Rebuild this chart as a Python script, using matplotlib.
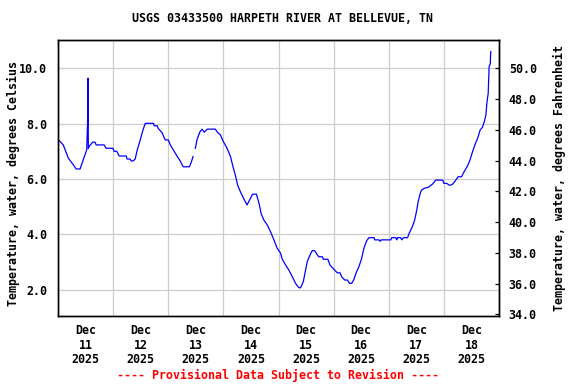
import numpy as np
import matplotlib
matplotlib.use("Agg")
import matplotlib.pyplot as plt
import matplotlib.dates as mdates
from datetime import datetime, timedelta

# Hours since Dec 11 2025 00:00 and water temperature (deg C)
hours = [0, 2.3, 4.5, 6.7, 7.9, 9.6, 11.0, 12.5, 13.0, 13.1, 13.2, 13.7, 15.1, 16.1,
         16.6, 20.1, 20.9, 23.9, 24.4, 25.6, 26.6, 29.7, 30.1, 31.4, 31.9, 32.7, 33.6,
         34.5, 35.8, 37.0, 38.0, 41.6, 41.9, 43.2, 43.6, 45.3, 46.7, 48.0, 48.9, 50.2,
         51.8, 53.2, 54.5, 57.2, 58.0, 58.8, 59.3, 59.8, 60.5, 61.7, 62.7, 63.7, 65.0,
         68.5, 69.4, 70.7, 72.0, 73.6, 75.1, 76.2, 77.2, 78.2, 79.4, 80.8, 82.3, 83.8,
         84.7, 86.4, 87.7, 88.4, 89.6, 91.1, 92.5, 94.0, 95.4, 96.9, 97.6, 99.1, 100.5,
         102.0, 103.4, 104.9, 105.6, 106.8, 107.8, 108.5, 109.7, 110.7, 111.7, 112.6,
         113.5, 115.1, 115.5, 117.5, 118.4, 120.1, 121.6, 122.8, 123.5, 124.8, 126.0,
         126.9, 127.9, 128.7, 130.0, 131.0, 132.1, 133.2, 134.4, 135.4, 137.6, 137.9,
         139.8, 140.2, 140.8, 144.9, 145.3, 147.1, 147.5, 147.9, 149.2, 149.7, 150.4,
         152.2, 152.9, 154.3, 155.3, 156.2, 156.8, 157.7, 158.3, 159.4, 161.2, 163.1,
         164.5, 167.5, 168.0, 169.3, 170.2, 171.1, 171.9, 173.2, 174.2, 175.7, 176.8,
         178.3, 179.4, 180.5, 181.5, 182.7, 183.8, 184.8, 185.6, 186.3, 186.7, 187.3,
         187.7, 188.2, 188.4]
temp_c = [7.43, 7.23, 6.75, 6.51, 6.36, 6.36, 6.69, 7.05, 8.38, 9.64, 7.10, 7.19, 7.33, 7.33,
          7.23, 7.23, 7.11, 7.11, 7.00, 7.00, 6.83, 6.83, 6.72, 6.72, 6.65, 6.65, 6.72,
          7.05, 7.41, 7.77, 8.01, 8.01, 7.92, 7.92, 7.83, 7.67, 7.41, 7.41, 7.23, 7.05,
          6.83, 6.65, 6.44, 6.44, 6.60, 6.81, np.nan, 7.11, 7.41, 7.69, 7.80, 7.69, 7.80,
          7.80, 7.69, 7.59, 7.35, 7.11, 6.81, 6.44, 6.14, 5.78, 5.54, 5.30, 5.06, 5.30,
          5.45, 5.45, 5.06, 4.76, 4.52, 4.34, 4.10, 3.80, 3.50, 3.32, 3.11, 2.89, 2.71,
          2.47, 2.23, 2.07, 2.07, 2.29, 2.71, 3.01, 3.25, 3.41, 3.41, 3.30,
          3.19, 3.19, 3.10, 3.10, 2.89, 2.74, 2.61, 2.61, 2.47, 2.35, 2.35,
          2.23, 2.23, 2.35, 2.65, 2.83, 3.10, 3.50, 3.77, 3.88, 3.88, 3.80,
          3.80, 3.75, 3.80, 3.80, 3.88, 3.88, 3.80, 3.88, 3.88, 3.80, 3.88,
          3.88, 4.04, 4.28, 4.52, 4.88, 5.18, 5.48, 5.60, 5.66, 5.70, 5.82,
          5.96, 5.96, 5.84, 5.84, 5.78, 5.78, 5.82, 5.96, 6.08, 6.08, 6.26,
          6.47, 6.69, 6.99, 7.23, 7.47, 7.77, 7.87, 8.07, 8.31, 8.73, 9.10,
          10.06, 10.16, 10.60]

day_labels = ["Dec\n11\n2025", "Dec\n12\n2025", "Dec\n13\n2025", "Dec\n14\n2025",
              "Dec\n15\n2025", "Dec\n16\n2025", "Dec\n17\n2025", "Dec\n18\n2025"]
c_ticks = [2.0, 4.0, 6.0, 8.0, 10.0]
f_ticks = [34.0, 36.0, 38.0, 40.0, 42.0, 44.0, 46.0, 48.0, 50.0]

start = datetime(2025, 12, 11)
times = [start + timedelta(hours=h) for h in hours]

font = dict(family="DejaVu Sans Mono", weight="bold", size=8.4)
plt.rcParams["font.family"] = "DejaVu Sans Mono"
plt.rcParams["font.weight"] = "bold"
plt.rcParams["font.size"] = 8.4

fig = plt.figure(figsize=(5.76, 3.84), dpi=100)
ax = fig.add_axes([58 / 576, 1 - 316 / 384, 441 / 576, 276 / 384])

ax.plot(times, temp_c, color="#0000ff", linewidth=0.9)

ylo, yhi = 1.05, 11.02
ax.set_ylim(ylo, yhi)
ax.set_xlim(start, start + timedelta(days=8))

# gridlines at midnight, labels at noon
ax.xaxis.set_major_locator(mdates.DayLocator())
ax.xaxis.set_major_formatter(plt.NullFormatter())
ax.set_xticks([start + timedelta(days=i, hours=12) for i in range(8)], minor=True)
ax.set_xticklabels(day_labels, minor=True, fontdict=font, linespacing=1.15)
ax.tick_params(axis="x", which="both", length=0, pad=6)
ax.grid(True, axis="x", which="major", color="#cccccc", linewidth=0.9)

ax.set_yticks(c_ticks)
ax.set_yticklabels([f"{v:.1f}" for v in c_ticks], fontdict=font)
ax.tick_params(axis="y", length=0, pad=8)
ax.grid(True, axis="y", color="#cccccc", linewidth=0.9)
ax.set_axisbelow(True)
ax.set_ylabel("Temperature, water, degrees Celsius", fontdict=font)
ax.yaxis.set_label_coords((20 - 58) / 441, 0.48)

ax2 = ax.twinx()
ax2.set_ylim(ylo * 1.8 + 32, yhi * 1.8 + 32)
ax2.set_yticks(f_ticks)
ax2.set_yticklabels([f"{v:.1f}" for v in f_ticks], fontdict=font)
ax2.tick_params(axis="y", direction="in", length=3, width=0.9, pad=7)
ax2.set_ylabel("Temperature, water, degrees Fahrenheit", fontdict=font)
ax2.yaxis.set_label_coords((553 - 58) / 441, 0.5)

for a in (ax, ax2):
    for s in a.spines.values():
        s.set_linewidth(1.0)

fig.text(283 / 576, 1 - 19 / 384, "USGS 03433500 HARPETH RIVER AT BELLEVUE, TN",
         ha="center", va="center", fontdict=font)
fig.text(278 / 576, 1 - 375 / 384, "---- Provisional Data Subject to Revision ----",
         ha="center", va="center", color="red", fontdict=font)

fig.savefig("out.png", dpi=100)
